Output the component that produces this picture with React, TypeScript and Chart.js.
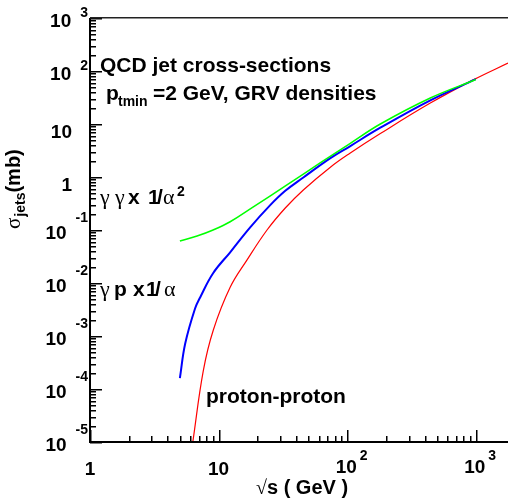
import React, { useEffect, useRef } from "react";
import { Chart, registerables } from "chart.js";

Chart.register(...registerables);

// sqrt(s) in GeV, sigma in mb
const ggX = [5.0, 6.8, 9.06, 12.3, 18.5, 34, 62, 105, 181, 443, 1000];
const ggY = [0.062, 0.077, 0.1, 0.143, 0.27, 0.71, 1.86, 4.27, 10.0, 31, 69];

const gpX = [5.0, 5.5, 6.56, 7.2, 9.06, 12.3, 17.6, 25.2, 33, 45.6, 74, 105, 181, 443, 1000];
const gpY = [1.6e-4, 7.2e-4, 3.3e-3, 5.4e-3, 0.0153, 0.038, 0.112, 0.294, 0.548, 0.98, 2.27, 3.8, 8.5, 28, 70];

const ppX = [6.3, 7.6, 9.1, 12.3, 16.6, 23.8, 33, 45.6, 74, 105, 181, 443, 955, 1780];
const ppY = [1e-5, 2.2e-4, 1.3e-3, 8.3e-3, 0.027, 0.1, 0.26, 0.57, 1.53, 2.8, 6.6, 24.8, 68, 141];

const X_MIN = 1;
const X_MAX = 1780;
const Y_MIN = 1e-5;
const Y_MAX = 1e3;
const xDecades = [0, 1, 2, 3];
const yDecades = [-5, -4, -3, -2, -1, 0, 1, 2, 3];
const tickMults = [1, 2, 3, 4, 5, 6, 7, 8, 9];

const SANS = '"Liberation Sans", Arial, sans-serif';
const SERIF = '"Liberation Serif", "DejaVu Serif", serif';

const framePlugin = {
  id: "rootFrame",
  afterDraw(chart: any) {
    const ctx: CanvasRenderingContext2D = chart.ctx;
    const a = chart.chartArea;
    const xs = chart.scales.x;
    const ys = chart.scales.y;
    ctx.save();
    ctx.fillStyle = "#000000";

    // ticks (inside the frame, ROOT style)
    for (const d of xDecades) {
      for (const m of tickMults) {
        const v = m * Math.pow(10, d);
        if (v < X_MIN || v > X_MAX) continue;
        const px = xs.getPixelForValue(v);
        const len = m === 1 ? 12 : 6;
        ctx.fillRect(Math.round(px), a.bottom - len, 1.5, len);
      }
    }
    for (const d of yDecades) {
      for (const m of tickMults) {
        const v = m * Math.pow(10, d);
        if (v > Y_MAX * 1.001) continue;
        const py = ys.getPixelForValue(v);
        const len = m === 1 ? 12 : 6;
        ctx.fillRect(a.left, Math.round(py), len, 1.5);
      }
    }

    // frame
    ctx.fillRect(a.left - 1, a.top, 2, a.bottom - a.top + 1);
    ctx.fillRect(a.left - 1, a.bottom - 1, a.right - a.left + 1, 2);
    ctx.fillStyle = "#222";
    ctx.fillRect(a.left, a.top - 1, a.right - a.left, 1.5);
    ctx.fillStyle = "#000";

    // y tick labels
    const big = `bold 19px ${SANS}`;
    const small = `bold 14px ${SANS}`;
    ctx.textBaseline = "alphabetic";
    for (const d of yDecades) {
      const ty = ys.getPixelForValue(Math.pow(10, d));
      if (d === 0 || d === 1) {
        ctx.font = big;
        ctx.textAlign = "right";
        ctx.fillText(d === 0 ? "1" : "10", 72, ty + 14);
      } else {
        ctx.font = small;
        ctx.textAlign = "right";
        const es = String(d);
        ctx.fillText(es, 88, d < 0 ? ty - 8.5 : ty - 1.5);
        const ew = ctx.measureText(es).width;
        ctx.font = big;
        ctx.fillText("10", 88 - ew - 9, ty + 8.8);
      }
    }

    // x tick labels
    for (const d of xDecades) {
      const tx = xs.getPixelForValue(Math.pow(10, d));
      ctx.font = big;
      if (d === 0 || d === 1) {
        ctx.textAlign = "center";
        ctx.fillText(d === 0 ? "1" : "10", tx, 475);
      } else {
        ctx.textAlign = "center";
        ctx.fillText("10", tx - 1, 473);
        const w = ctx.measureText("10").width;
        ctx.font = small;
        ctx.textAlign = "left";
        ctx.fillText(String(d), tx - 1 + w / 2 + 3, 460);
      }
    }

    // x title
    ctx.textAlign = "left";
    ctx.font = `20px ${SERIF}`;
    ctx.fillText("\u221A", 256, 494);
    const xw = 256 + ctx.measureText("\u221A").width;
    ctx.font = `bold 20px ${SANS}`;
    ctx.fillText("s ( GeV )", xw, 494);

    // y title (rotated)
    ctx.save();
    ctx.translate(20, 229);
    ctx.rotate(-Math.PI / 2);
    ctx.textAlign = "left";
    ctx.font = `21px ${SERIF}`;
    ctx.fillText("\u03C3", 0, 0);
    let yw = ctx.measureText("\u03C3").width;
    ctx.font = `bold 14px ${SANS}`;
    ctx.fillText("jets", yw + 1, 5);
    yw += 1 + ctx.measureText("jets").width;
    ctx.font = `bold 20px ${SANS}`;
    ctx.fillText("(mb)", yw, 0);
    ctx.restore();

    // annotations
    ctx.textAlign = "left";
    ctx.font = `bold 21px ${SANS}`;
    ctx.fillText("QCD jet cross-sections", 100, 72);
    ctx.fillText("p", 106, 100);
    ctx.font = `bold 14px ${SANS}`;
    ctx.fillText("tmin", 118, 106);
    ctx.font = `bold 21px ${SANS}`;
    ctx.fillText("=2 GeV, GRV densities", 153, 100);

    // gamma gamma label
    ctx.font = `22px ${SERIF}`;
    ctx.fillText("\u03B3", 100, 204);
    ctx.fillText("\u03B3", 115, 204);
    ctx.font = `bold 21px ${SANS}`;
    ctx.fillText("x", 128, 204);
    ctx.fillText("1", 148, 204);
    ctx.fillText("/", 157, 204);
    ctx.font = `22px ${SERIF}`;
    ctx.fillText("\u03B1", 163, 204);
    ctx.font = `bold 14px ${SANS}`;
    ctx.fillText("2", 177, 196);

    // gamma p label
    ctx.font = `22px ${SERIF}`;
    ctx.fillText("\u03B3", 100, 296);
    ctx.font = `bold 21px ${SANS}`;
    ctx.fillText("p", 114, 296);
    ctx.fillText("x", 133, 296);
    ctx.fillText("1", 146, 296);
    ctx.fillText("/", 155, 296);
    ctx.font = `22px ${SERIF}`;
    ctx.fillText("\u03B1", 164, 296);

    // proton-proton label
    ctx.font = `bold 21px ${SANS}`;
    ctx.fillText("proton-proton", 206, 403);

    ctx.restore();
  },
};

export default function App() {
  const ref = useRef<HTMLCanvasElement | null>(null);
  useEffect(() => {
    if (!ref.current) return;
    const mk = (xv: number[], yv: number[]) => xv.map((x, i) => ({ x, y: yv[i] }));
    const chart = new Chart(ref.current, {
      type: "line",
      data: {
        datasets: [
          {
            label: "gamma gamma x 1/alpha^2",
            data: mk(ggX, ggY),
            borderColor: "#00ff00",
            borderWidth: 1.5,
            pointRadius: 0,
            fill: false,
            tension: 0.4,
          },
          {
            label: "gamma p x 1/alpha",
            data: mk(gpX, gpY),
            borderColor: "#0000ff",
            borderWidth: 2,
            pointRadius: 0,
            fill: false,
            tension: 0.4,
          },
          {
            label: "proton-proton",
            data: mk(ppX, ppY),
            borderColor: "#ff0000",
            borderWidth: 1.2,
            pointRadius: 0,
            fill: false,
            tension: 0.4,
          },
        ],
      },
      options: {
        responsive: false,
        animation: false,
        devicePixelRatio: 1,
        events: [],
        layout: { padding: { left: 90, top: 18, right: 0, bottom: 57 } },
        plugins: { legend: { display: false }, tooltip: { enabled: false } },
        scales: {
          x: { type: "logarithmic", min: X_MIN, max: X_MAX, display: false },
          y: { type: "logarithmic", min: Y_MIN, max: Y_MAX, display: false },
        },
      },
      plugins: [framePlugin],
    } as any);
    return () => chart.destroy();
  }, []);
  return (
    <div style={{ position: "absolute", left: 0, top: 0, width: 508, height: 499, background: "#fff" }}>
      <canvas ref={ref} width={508} height={499} style={{ display: "block" }} />
    </div>
  );
}
